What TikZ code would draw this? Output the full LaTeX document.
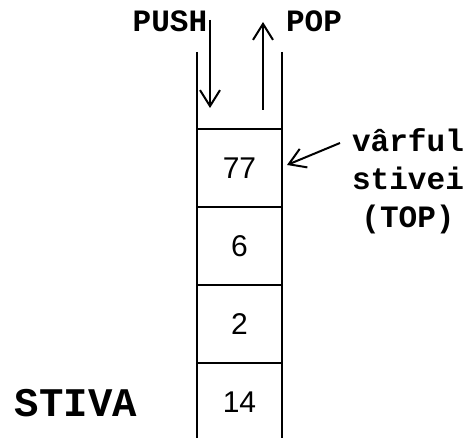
\documentclass[tikz,border=0pt]{standalone}
\usepackage{fontspec}
\setmainfont{Liberation Sans}
\newfontfamily\monob{Liberation Mono}
\usetikzlibrary{arrows.meta}
\begin{document}
\begin{tikzpicture}[x=0.75pt,y=-0.75pt,
  wall/.style={line width=1.5pt},
  num/.style={font=\fontsize{22.5}{26}\selectfont, inner sep=0pt},
  lbl/.style={font=\monob\bfseries\fontsize{23.3}{28.5}\selectfont, inner sep=0pt, align=center},
  arr/.style={line width=1.5pt, -{Straight Barb[length=12pt,width=15pt,line width=1.5pt]}}]
\useasboundingbox (0,0) rectangle (467,438);
% walls
\coordinate (lt) at (197,52); \coordinate (lb) at (197,440);
\coordinate (rt) at (282,52); \coordinate (rb) at (282,440);
\draw[wall] (lt) -- (lb);
\draw[wall] (rt) -- (rb);
% separators
\foreach \y/\n in {129/a,207/b,285/c,363/d}{
  \coordinate (s\n l) at (197,\y); \coordinate (s\n r) at (282,\y);
  \draw[wall] (s\n l) -- (s\n r);
}
% numbers
\node[num] (c77) at (239.5,168) {77};
\node[num] (c6) at (239.5,246) {6};
\node[num] (c2) at (239.5,324) {2};
\node[num] (c14) at (239.5,402) {14};
% labels
\node[lbl] (push) at (170,21) {PUSH};
\node[lbl] (pop) at (314,21) {POP};
\node[lbl, font=\monob\bfseries\fontsize{30.5}{36}\selectfont] (stiva) at (76,403) {STIVA};
\node[lbl] (top) at (408,181) {vârful\\stivei\\(TOP)};
% arrows
\coordinate (pushs) at (210,20); \coordinate (pushe) at (210,108);
\coordinate (pops) at (263,110); \coordinate (pope) at (263,22);
\draw[arr] (pushs) -- (pushe);
\draw[arr] (pops) -- (pope);
\coordinate (tops) at (340,143); \coordinate (tope) at (287,165);
\draw[arr] (tops) -- (tope);
\end{tikzpicture}
\end{document}
